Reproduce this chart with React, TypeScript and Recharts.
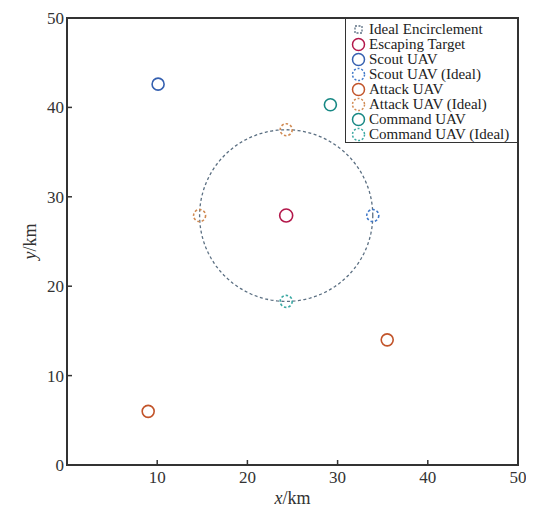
import React from "react";
import { ScatterChart, Scatter, XAxis, YAxis, ReferenceArea, Legend } from "recharts";

const circleCenter = { x: 24.3, y: 27.9 };
const circleRadius = 9.6;
const circleSteps = 180;

const targetPts = [{ x: 24.3, y: 27.9 }];
const scoutPts = [{ x: 10.1, y: 42.6 }];
const scoutIdealPts = [{ x: 33.9, y: 27.9 }];
const attackPts = [{ x: 35.5, y: 14.0 }, { x: 9.0, y: 6.0 }];
const attackIdealPts = [{ x: 14.7, y: 27.9 }, { x: 24.3, y: 37.5 }];
const commandPts = [{ x: 29.2, y: 40.3 }];
const commandIdealPts = [{ x: 24.3, y: 18.3 }];

const xTicks = [10, 20, 30, 40, 50];
const yTicks = [0, 10, 20, 30, 40, 50];

const circlePts = Array.from({ length: circleSteps + 1 }, (_, i) => {
  const t = (2 * Math.PI * i) / circleSteps;
  return { x: circleCenter.x + circleRadius * Math.cos(t), y: circleCenter.y + circleRadius * Math.sin(t) };
});

const FONT = "'Liberation Serif', 'DejaVu Serif', serif";
const AXIS = "#333";

const C = {
  circle: "#5b6f82",
  target: "#b3174a",
  scout: "#3560b0",
  scoutIdeal: "#3f78c8",
  attack: "#c2542a",
  attackIdeal: "#d08a52",
  command: "#178884",
  commandIdeal: "#3aa8a2",
};

const legendItems = [
  { name: "Ideal Encirclement", color: C.circle, kind: "square" },
  { name: "Escaping Target", color: C.target, kind: "solid" },
  { name: "Scout UAV", color: C.scout, kind: "solid" },
  { name: "Scout UAV (Ideal)", color: C.scoutIdeal, kind: "dashed" },
  { name: "Attack UAV", color: C.attack, kind: "solid" },
  { name: "Attack UAV (Ideal)", color: C.attackIdeal, kind: "dashed" },
  { name: "Command UAV", color: C.command, kind: "solid" },
  { name: "Command UAV (Ideal)", color: C.commandIdeal, kind: "dashed" },
];

const ring = (color: string, dashed: boolean, r = 6) => (props: any) => {
  const { cx, cy } = props;
  if (cx == null || cy == null) return <g />;
  return (
    <circle cx={cx} cy={cy} r={r} fill="none" stroke={color} strokeWidth={1.6}
      strokeDasharray={dashed ? "2.5 2" : undefined} />
  );
};

const XTick = (props: any) => {
  const { x, y, payload } = props;
  return (
    <g>
      <line x1={x} y1={y} x2={x} y2={y - 5} stroke={AXIS} strokeWidth={1.5} />
      <text x={x} y={y + 18} textAnchor="middle" fontFamily={FONT} fontSize={17} fill="#333">{payload.value}</text>
    </g>
  );
};

const YTick = (props: any) => {
  const { x, y, payload } = props;
  return (
    <g>
      {payload.value !== 0 && payload.value !== 50 ? (
        <line x1={x} y1={y} x2={x + 5} y2={y} stroke={AXIS} strokeWidth={1.5} />
      ) : null}
      <text x={x - 3} y={y + 6} textAnchor="end" fontFamily={FONT} fontSize={17} fill="#333">{payload.value}</text>
    </g>
  );
};

const XLabel = (props: any) => {
  const vb = props.viewBox || {};
  const cx = vb.x + vb.width / 2;
  const y = vb.y + 39;
  return (
    <text x={cx} y={y} textAnchor="middle" fontFamily={FONT} fontSize={18} fill="#333">
      <tspan fontStyle="italic">x</tspan>/km
    </text>
  );
};

const YLabel = (props: any) => {
  const vb = props.viewBox || {};
  const cx = vb.x + 28;
  const cy = vb.y + vb.height / 2;
  return (
    <text x={cx} y={cy} textAnchor="middle" transform={`rotate(-90 ${cx} ${cy})`} fontFamily={FONT} fontSize={18} fill="#333">
      <tspan fontStyle="italic">y</tspan>/km
    </text>
  );
};

const LegendBox = () => (
  <div style={{ background: "#fff", border: `1.5px solid ${AXIS}`, width: 173, height: 125, boxSizing: "border-box", padding: "3px 0 0 4px", fontFamily: FONT, fontSize: 15, color: "#222", lineHeight: "15px" }}>
    {legendItems.map((it) => (
      <div key={it.name} style={{ display: "flex", alignItems: "center", height: 15 }}>
        <svg width={18} height={15} style={{ flex: "none" }}>
          {it.kind === "square" ? (
            <rect x={5} y={4} width={7} height={7} fill="none" stroke={it.color} strokeWidth={1.3} strokeDasharray="2 1.5" />
          ) : (
            <circle cx={8.5} cy={7.5} r={6} fill="none" stroke={it.color} strokeWidth={1.5}
              strokeDasharray={it.kind === "dashed" ? "2 1.8" : undefined} />
          )}
        </svg>
        <span style={{ marginLeft: 1, whiteSpace: "nowrap" }}>{it.name}</span>
      </div>
    ))}
  </div>
);

export default function App() {
  return (
    <ScatterChart width={518} height={499} margin={{ top: 10, right: 8, bottom: 0, left: 0 }}>
      <XAxis type="number" dataKey="x" domain={[0, 50]} ticks={xTicks} allowDataOverflow
        tickSize={0} tickMargin={0} tick={<XTick />} axisLine={{ stroke: AXIS, strokeWidth: 2 }}
        label={<XLabel />} height={42} />
      <YAxis type="number" dataKey="y" domain={[0, 50]} ticks={yTicks} allowDataOverflow
        tickSize={0} tickMargin={0} tick={<YTick />} axisLine={{ stroke: AXIS, strokeWidth: 2 }} width={59}
        label={<YLabel />} />
      <ReferenceArea x1={0} x2={50} y1={0} y2={50} fill="none" stroke={AXIS} strokeWidth={2} ifOverflow="visible" />
      <Scatter name="Ideal Encirclement" data={circlePts} line={{ stroke: C.circle, strokeWidth: 1.3, strokeDasharray: "3 2.5" }}
        lineType="joint" shape={() => <g />} isAnimationActive={false} />
      <Scatter name="Escaping Target" data={targetPts} shape={ring(C.target, false, 6.5)} isAnimationActive={false} />
      <Scatter name="Scout UAV" data={scoutPts} shape={ring(C.scout, false)} isAnimationActive={false} />
      <Scatter name="Scout UAV (Ideal)" data={scoutIdealPts} shape={ring(C.scoutIdeal, true)} isAnimationActive={false} />
      <Scatter name="Attack UAV" data={attackPts} shape={ring(C.attack, false)} isAnimationActive={false} />
      <Scatter name="Attack UAV (Ideal)" data={attackIdealPts} shape={ring(C.attackIdeal, true)} isAnimationActive={false} />
      <Scatter name="Command UAV" data={commandPts} shape={ring(C.command, false)} isAnimationActive={false} />
      <Scatter name="Command UAV (Ideal)" data={commandIdealPts} shape={ring(C.commandIdeal, true)} isAnimationActive={false} />
      <Legend content={<LegendBox />} layout="vertical" align="center" verticalAlign="middle"
        wrapperStyle={{ position: "absolute", top: 10, left: 337, right: "auto", bottom: "auto", width: "auto", height: "auto" }} />
    </ScatterChart>
  );
}
